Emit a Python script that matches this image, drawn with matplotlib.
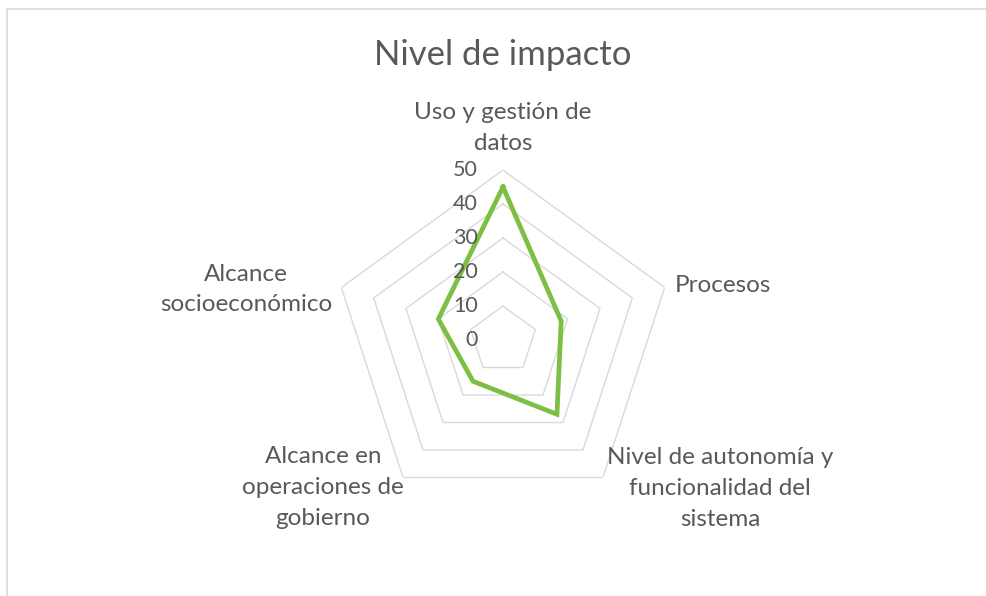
import numpy as np
import matplotlib
matplotlib.use('Agg')
import matplotlib.pyplot as plt
from matplotlib.patches import Rectangle

# datos del grafico
categorias = ['Uso y gestión de\ndatos', 'Procesos',
              'Nivel de autonomía y\nfuncionalidad del\nsistema',
              'Alcance en\noperaciones de\ngobierno',
              'Alcance\nsocioeconómico']
valores = [45, 18, 27, 15, 20]
anillos = [10, 20, 30, 40, 50]
etiquetas_eje = [0, 10, 20, 30, 40, 50]
titulo = 'Nivel de impacto'

plt.rcParams['font.family'] = ['Lato', 'DejaVu Sans']
GRIS = '#595959'
VERDE = '#7bc043'

fig = plt.figure(figsize=(9.86, 5.96), dpi=100)
W, H = 986, 596

# marco del area del grafico (solo se ve arriba y a la izquierda)
fig.patches.append(Rectangle((7 / W, -0.1), 1.2, (596 - 9) / H + 0.1,
                             transform=fig.transFigure, fill=False,
                             edgecolor='#d9d9d9', lw=1.2))

cx, cy, R = 503, 340, 170
ax = fig.add_axes([(cx - R) / W, (H - cy - R) / H, 2 * R / W, 2 * R / H],
                  projection='polar')
ax.set_theta_offset(np.pi / 2)
ax.set_theta_direction(-1)
ax.set_ylim(0, 50)
ax.grid(False)
ax.spines['polar'].set_visible(False)
ax.set_xticks([])
ax.set_yticks([])
ax.patch.set_alpha(0)

n = len(categorias)
ang = np.linspace(0, 2 * np.pi, n, endpoint=False)
ang_c = np.append(ang, ang[0])

for r in anillos:
    ax.plot(ang_c, [r] * (n + 1), color='#d9d9d9', lw=1.0, zorder=1)

ax.plot(ang_c, valores + valores[:1], color=VERDE, lw=3.4,
        solid_joinstyle='miter', zorder=3)

for v in etiquetas_eje:
    ax.annotate(str(v), xy=(0, v), xytext=(-25, 0), textcoords='offset pixels',
                ha='right', va='center', fontsize=15.5, color=GRIS,
                annotation_clip=False)

# posicion de cada etiqueta respecto al vertice exterior (pixeles)
desplaz = [(0, 42, 'center', 'center'),
           (10, 2, 'left', 'center'),
           (117, -11, 'center', 'center'),
           (-80, -10, 'center', 'center'),
           (-95, -2, 'center', 'center')]
for a, lab, (dx, dy, ha, va) in zip(ang, categorias, desplaz):
    ax.annotate(lab, xy=(a, 50), xytext=(dx, dy), textcoords='offset pixels',
                ha=ha, va=va, fontsize=17.5, color=GRIS, linespacing=1.58,
                multialignment='center', annotation_clip=False)

fig.text(503 / W, 1 - 55 / H, titulo, ha='center', va='center',
         fontsize=25, color=GRIS)

fig.savefig('out.png', dpi=100)
